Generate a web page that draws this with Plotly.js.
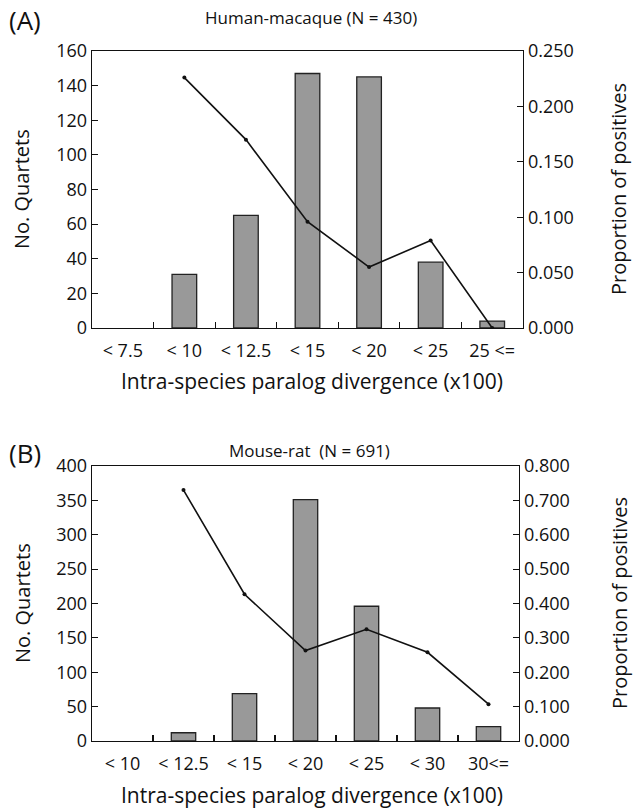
<!DOCTYPE html>
<html>
<head>
<meta charset="utf-8">
<script src="https://cdn.plot.ly/plotly-3.0.1.min.js"></script>
<style>html,body{margin:0;padding:0;background:#fff;}#chart{width:637px;height:809px;}</style>
</head>
<body>
<div id="chart"></div>
<script>
// Panel A: Human-macaque
const catsA = ["< 7.5", "< 10", "< 12.5", "< 15", "< 20", "< 25", "25 <="];
const quartetsA = [0, 31, 65, 147, 145, 38, 4];
const propA = [null, 0.226, 0.170, 0.096, 0.055, 0.079, 0.000];

// Panel B: Mouse-rat
const catsB = ["< 10", "< 12.5", "< 15", "< 20", "< 25", "< 30", "30<="];
const quartetsB = [0, 12, 69, 351, 196, 48, 21];
const propB = [null, 0.730, 0.427, 0.263, 0.325, 0.258, 0.107];

const titleA = "Human-macaque (N = 430)";
const titleB = "Mouse-rat\u00a0 (N = 691)";
const xTitle = "Intra-species paralog divergence (x100)";
const yLeftTitle = "No. Quartets";
const yRightTitle = "Proportion of positives";

const W = 637, H = 809;
const px = x => x / W;
const py = y => 1 - y / H;
const FONT = "'Open Sans', 'Noto Sans', sans-serif";
const INK = "#111";

function barStyle(vals) {
  return {color: "#999999", line: {color: "#222", width: vals.map(v => v > 0 ? 1.3 : 0)}};
}
const lineStyle = {color: "#111", width: 1.6};
const markerStyle = {color: "#111", size: 4};

const traces = [
  {type: "bar", x: catsA, y: quartetsA, xaxis: "x", yaxis: "y", width: 0.4, marker: barStyle(quartetsA), hoverinfo: "skip"},
  {type: "scatter", mode: "lines+markers", x: catsA, y: propA, xaxis: "x", yaxis: "y2", line: lineStyle, marker: markerStyle, connectgaps: false},
  {type: "bar", x: catsB, y: quartetsB, xaxis: "x2", yaxis: "y3", width: 0.4, marker: barStyle(quartetsB), hoverinfo: "skip"},
  {type: "scatter", mode: "lines+markers", x: catsB, y: propB, xaxis: "x2", yaxis: "y4", line: lineStyle, marker: markerStyle, connectgaps: false}
];

const tickFont = {family: FONT, size: 18, color: INK};
function xAx(domain, anchor) {
  return {domain: domain, anchor: anchor, type: "category", showline: true, linecolor: INK, linewidth: 1.3,
    mirror: true, ticks: "inside", tickson: "boundaries", ticklen: 6, tickwidth: 1.2, tickcolor: INK,
    tickfont: tickFont, tickangle: 0, showgrid: false, zeroline: false, fixedrange: true, ticklabelstandoff: 6};
}
function yAx(domain, anchor, range, dtick, fmt, side, overlay) {
  const a = {domain: domain, anchor: anchor, range: range, dtick: dtick, tick0: 0, showline: true, linecolor: INK,
    linewidth: 1.3, ticks: "inside", ticklen: 6, tickwidth: 1.2, tickcolor: INK, tickfont: tickFont,
    showgrid: false, zeroline: false, side: side, fixedrange: true};
  if (fmt) a.tickformat = fmt;
  if (overlay) a.overlaying = overlay;
  return a;
}

const domA = [py(328), py(51)];
const domB = [py(741), py(466)];

const titleFont = {family: FONT, size: 17, color: INK};
const xTitleFont = {family: FONT, size: 21, color: INK};
const yTitleFont = {family: FONT, size: 20, color: INK};
const panelFont = {family: FONT, size: 26, color: INK};
function ann(text, x, y, font, extra) {
  return Object.assign({text: text, x: px(x), y: py(y), xref: "paper", yref: "paper", xanchor: "center", yanchor: "middle", showarrow: false, font: font}, extra || {});
}

const layout = {
  width: W, height: H,
  margin: {l: 0, r: 0, t: 0, b: 0},
  paper_bgcolor: "#fff", plot_bgcolor: "rgba(0,0,0,0)",
  showlegend: false, barmode: "overlay",
  font: {family: FONT, color: INK},
  xaxis: xAx([px(92), px(523)], "y"),
  yaxis: yAx(domA, "x", [0, 160], 20, null, "left"),
  yaxis2: yAx(domA, "x", [0, 0.25], 0.05, ".3f", "right", "y"),
  xaxis2: xAx([px(92), px(519)], "y3"),
  yaxis3: yAx(domB, "x2", [0, 400], 50, null, "left"),
  yaxis4: yAx(domB, "x2", [0, 0.8], 0.1, ".3f", "right", "y3"),
  annotations: [
    ann("(A)", 8, 20, panelFont, {xanchor: "left", borderpad: 0}),
    ann(titleA, 311, 17, titleFont),
    ann(xTitle, 312, 381, xTitleFont),
    ann(yLeftTitle, 22, 189, yTitleFont, {textangle: -90}),
    ann(yRightTitle, 619, 189, yTitleFont, {textangle: -90}),
    ann("(B)", 8, 453, panelFont, {xanchor: "left", borderpad: 0}),
    ann(titleB, 309, 450, titleFont),
    ann(xTitle, 312, 795, xTitleFont),
    ann(yLeftTitle, 22, 603, yTitleFont, {textangle: -90}),
    ann(yRightTitle, 619, 603, yTitleFont, {textangle: -90})
  ]
};

Plotly.newPlot("chart", traces, layout, {staticPlot: true, displayModeBar: false});
</script>
</body>
</html>
